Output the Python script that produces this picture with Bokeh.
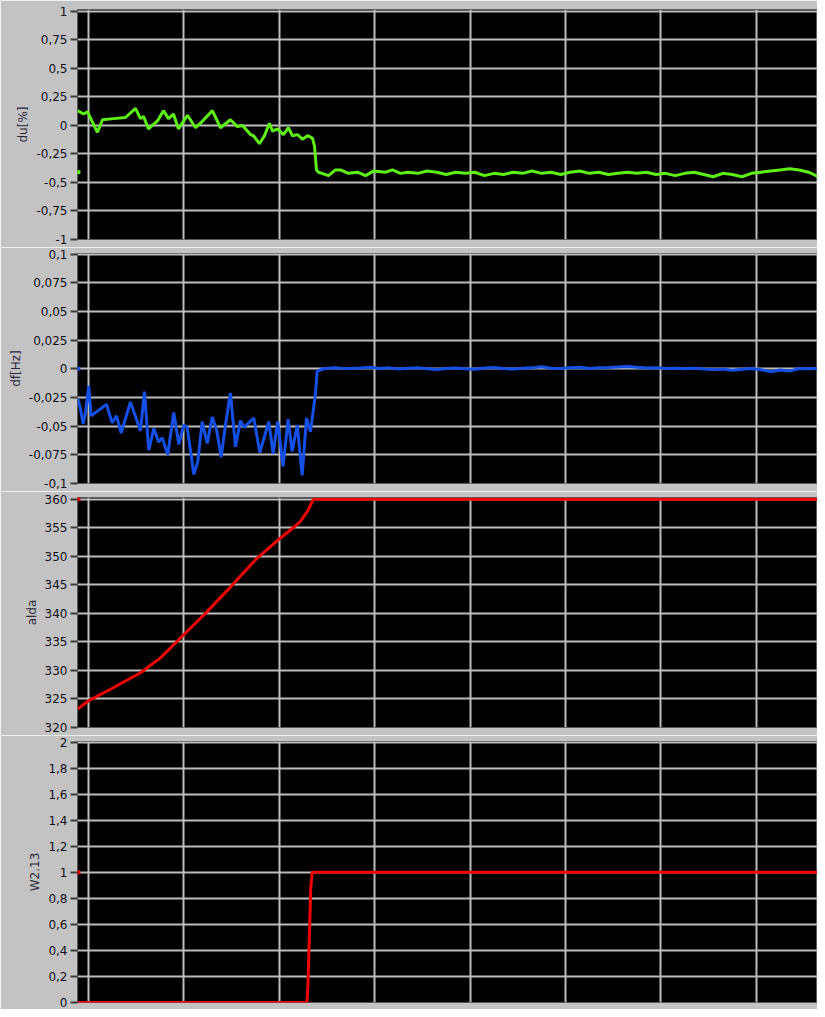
from bokeh.plotting import figure
from bokeh.layouts import column
from bokeh.models import Range1d, FixedTicker, CustomJSTickFormatter
from bokeh.embed import file_html
from bokeh.resources import INLINE

# ---------------- data ----------------
# time axis (s); vertical grid every 10 s
x_grid = [0, 10, 20, 30, 40, 50, 60, 70]
x_start, x_end = -1.15, 76.42

# du [%]
du_t = [-1.15, -0.52, -0.10, 0.94, 1.47, 2.62, 3.88, 4.93, 5.45, 5.77, 6.29, 7.23, 7.86,
        8.39, 8.91, 9.43, 10.38, 11.22, 11.74, 12.99, 13.84, 14.88, 15.62, 16.14, 16.98,
        17.30, 17.92, 18.45, 18.97, 19.29, 19.81, 20.44, 20.96, 21.38, 21.91, 22.43, 22.96,
        23.48, 23.69, 23.90, 24.11, 25.16, 25.89, 26.42, 27.25, 28.20, 29.04, 29.87, 31.13,
        31.87, 32.70,
        33.5, 34.5, 35.5, 36.5, 37.5, 38.5, 39.5, 40.5, 41.5, 42.5, 43.5, 44.5, 45.5, 46.5,
        47.5, 48.5, 49.5, 50.5, 51.5, 52.5, 53.5, 54.5, 55.5, 56.5, 57.5, 58.5, 59.5, 60.5,
        61.5, 62.5, 63.5, 64.5, 65.5, 66.5, 67.5, 68.5, 69.5, 70.5, 71.5, 72.5, 73.5, 74.5,
        75.5, 76.5, 77.3]
du_v = [0.13, 0.10, 0.12, -0.06, 0.05, 0.06, 0.07, 0.15, 0.06, 0.08, -0.03, 0.04, 0.13,
        0.06, 0.10, -0.03, 0.09, -0.02, 0.02, 0.13, -0.02, 0.05, -0.01, 0.00, -0.08,
        -0.09, -0.16, -0.09, 0.02, -0.05, -0.03, -0.08, -0.02, -0.09, -0.08, -0.12, -0.09,
        -0.11, -0.18, -0.39, -0.41, -0.44, -0.39, -0.39, -0.42, -0.41, -0.44, -0.40, -0.41,
        -0.39, -0.42,
        -0.41, -0.42, -0.40, -0.41, -0.43, -0.41, -0.42, -0.41, -0.44, -0.42, -0.43, -0.41,
        -0.42, -0.40, -0.42, -0.41, -0.43, -0.41, -0.40, -0.42, -0.41, -0.43, -0.42, -0.41,
        -0.42, -0.41, -0.43, -0.42, -0.44, -0.42, -0.41, -0.43, -0.45, -0.42, -0.43, -0.45,
        -0.42, -0.41, -0.40, -0.39, -0.38, -0.39, -0.41, -0.45, -0.45]
du_dot = -0.41

# df [Hz]
df_t = [-1.12, -0.84, -0.56, -0.31, 0.03, 0.28, 1.89, 2.48, 2.94, 3.43, 4.40, 5.45, 5.87,
        6.32, 6.85, 7.37, 7.73, 8.31, 8.94, 9.47, 9.99, 10.35, 11.04, 11.46, 11.92, 12.45,
        12.97, 13.42, 13.91, 14.36, 14.88, 15.41, 15.93, 16.28, 17.33, 17.96, 18.90, 19.36,
        19.84, 20.40, 20.93, 21.35, 21.88, 22.40, 22.85, 23.27, 23.79, 23.97, 24.66, 25.71,
        26.5, 27.5, 28.5, 29.5, 30.5, 31.5, 32.5, 33.5, 34.5, 35.5, 36.5, 37.5, 38.5, 39.5,
        40.5, 41.5, 42.5, 43.5, 44.5, 45.5, 46.5, 47.5, 48.5, 49.5, 50.5, 51.5, 52.5, 53.5,
        54.5, 55.5, 56.5, 57.5, 58.5, 59.5, 60.5, 61.5, 62.5, 63.5, 64.5, 65.5, 66.5, 67.5,
        68.5, 69.5, 70.5, 71.5, 72.5, 73.5, 74.5, 75.5, 76.5, 77.3]
df_v = [-0.026, -0.035, -0.048, -0.038, -0.015, -0.041, -0.031, -0.047, -0.041, -0.056,
        -0.029, -0.054, -0.020, -0.071, -0.052, -0.064, -0.060, -0.075, -0.038, -0.066,
        -0.049, -0.051, -0.092, -0.081, -0.046, -0.065, -0.042, -0.053, -0.077, -0.049,
        -0.021, -0.068, -0.045, -0.051, -0.043, -0.073, -0.046, -0.074, -0.046, -0.085,
        -0.044, -0.072, -0.049, -0.093, -0.043, -0.055, -0.022, -0.002, 0.000, 0.001,
        0.0004, 0.0002, 0.0006, 0.0014, 0.0003, 0.0008, -0.0002, 0.0005, 0.0009, 0.0001,
        -0.0006, 0.0003, 0.0007, 0.0000, -0.0005, 0.0006, 0.0011, 0.0002, -0.0003, 0.0005,
        0.0008, 0.0018, 0.0005, 0.0002, 0.0010, 0.0014, 0.0003, 0.0009, 0.0012, 0.0016,
        0.0020, 0.0013, 0.0006, 0.0009, 0.0002, 0.0005, 0.0001, 0.0004, -0.0002, -0.0006,
        -0.0003, -0.0012, -0.0004, 0.0002, -0.0008, -0.0025, -0.0010, -0.0020, 0.0003,
        0.0001, 0.0002, 0.0001]
df_dot = 0.0

# alda
alda_t = [-1.12, 0.03, 2.31, 5.45, 7.55, 9.96, 12.26, 14.88, 17.51, 19.98, 21.17, 22.22,
          23.0, 23.58, 77.3]
alda_v = [323.3, 324.7, 326.7, 329.6, 332.2, 336.2, 340.0, 344.6, 349.4, 353.0, 354.6,
          356.1, 358.0, 360.0, 360.0]
alda_dot = 360.0

# W2.13
w_t = [-1.15, 22.9, 23.0, 23.1, 23.2, 23.3, 23.45, 77.3]
w_v = [0, 0, 0.12, 0.38, 0.62, 0.88, 1, 1]
w_dot = 1.0

# y ticks
du_ticks = [-1, -0.75, -0.5, -0.25, 0, 0.25, 0.5, 0.75, 1]
df_ticks = [-0.1, -0.075, -0.05, -0.025, 0, 0.025, 0.05, 0.075, 0.1]
alda_ticks = [320, 325, 330, 335, 340, 345, 350, 355, 360]
w_ticks = [0, 0.2, 0.4, 0.6, 0.8, 1, 1.2, 1.4, 1.6, 1.8, 2]

BG = "#c3c3c3"
GREEN = "#5cf014"
BLUE = "#1450e6"
RED = "#f00000"

xr = Range1d(x_start, x_end)
fmt_code = "var v = Math.round(tick*1000)/1000; return v.toString().replace('.', ',');"


def panel(height, top, bottom, y0, y1, ticks, label):
    p = figure(width=817, height=height, x_range=xr, y_range=Range1d(y0, y1),
               output_backend="svg", toolbar_location=None, title=None,
               min_border_left=77, min_border_right=0,
               min_border_top=top, min_border_bottom=bottom,
               background_fill_color="black", border_fill_color=BG,
               outline_line_color="#5a5a5a", outline_line_width=1)
    p.xaxis.visible = False
    p.xgrid.ticker = FixedTicker(ticks=x_grid)
    ax = p.yaxis[0]
    ax.ticker = FixedTicker(ticks=ticks)
    ax.formatter = CustomJSTickFormatter(code=fmt_code)
    ax.axis_label = label
    ax.axis_label_text_font = "DejaVu Sans"
    ax.axis_label_text_font_size = "12px"
    ax.axis_label_text_font_style = "normal"
    ax.axis_label_text_color = "#2a2a3a"
    ax.axis_label_standoff = 3
    ax.major_label_text_font = "DejaVu Sans"
    ax.major_label_text_font_size = "12px"
    ax.major_label_text_color = "#101018"
    ax.major_label_standoff = 3
    ax.major_tick_out = 7
    ax.major_tick_in = 0
    ax.minor_tick_out = 0
    ax.minor_tick_in = 0
    ax.major_tick_line_color = "#3a3a3a"
    ax.major_tick_line_width = 2
    ax.axis_line_color = None
    p.grid.grid_line_color = "#bdbdbd"
    p.grid.grid_line_width = 2
    return p


p1 = panel(247, 9, 8, -1, 1.017, du_ticks, "du[%]")
p1.line(du_t, du_v, line_color=GREEN, line_width=3)
p1.scatter([x_start + 0.1], [du_dot], marker="square", size=3, color=GREEN)

p2 = panel(244, 6, 8, -0.1, 0.1005, df_ticks, "df[Hz]")
p2.line(df_t, df_v, line_color=BLUE, line_width=3)
p2.scatter([x_start + 0.1], [df_dot], marker="square", size=3, color=BLUE)

p3 = panel(244, 6, 8, 320, 360.3, alda_ticks, "alda")
p3.line(alda_t, alda_v, line_color=RED, line_width=3)
p3.scatter([x_start + 0.1], [alda_dot], marker="square", size=3, color=RED)

p4 = panel(274, 6, 7, 0, 2.005, w_ticks, "W2.13")
p4.line(w_t, w_v, line_color=RED, line_width=3)
p4.scatter([x_start + 0.1], [w_dot], marker="square", size=3, color=RED)

layout = column(p1, p2, p3, p4, spacing=0)

open("out.html", "w").write(file_html(layout, INLINE))
